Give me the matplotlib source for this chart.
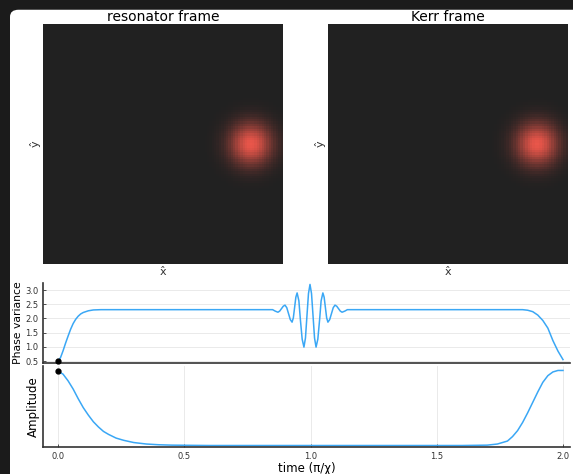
import numpy as np
import matplotlib
matplotlib.use("Agg")
import matplotlib.pyplot as plt
from matplotlib.colors import LinearSegmentedColormap
from matplotlib.patches import FancyBboxPatch

# heatmap blob (coherent state), in quadrature units
frame_titles = ["resonator frame", "Kerr frame"]
blob_x = [3.7, 3.75]
blob_y = [0.0, 0.0]
blob_sigma = 0.62
quad_range = 5.0
grid_cells = 101

# phase variance vs time (pi/chi)
pv_t = [0.0, 0.01, 0.02, 0.03, 0.04, 0.05, 0.06, 0.07, 0.08, 0.09, 0.10, 0.12, 0.14, 0.17,
        0.30, 0.50, 0.70, 0.80, 0.85, 0.86, 0.871, 0.878, 0.885, 0.892, 0.899, 0.906, 0.913,
        0.92, 0.927, 0.932, 0.937, 0.942, 0.947, 0.954, 0.96, 0.967, 0.974, 0.98, 0.986,
        0.992, 0.998, 1.004, 1.010, 1.016, 1.022, 1.029, 1.036, 1.042, 1.049, 1.054, 1.059,
        1.064, 1.069, 1.076, 1.083, 1.09, 1.097, 1.104, 1.111, 1.118, 1.125, 1.136, 1.146,
        1.30, 1.50, 1.70, 1.80, 1.84, 1.86, 1.88, 1.90, 1.92, 1.94, 1.96, 1.98, 2.0]
pv_v = [0.50, 0.62, 0.86, 1.13, 1.38, 1.62, 1.82, 1.97, 2.08, 2.16, 2.21, 2.27, 2.30, 2.31,
        2.31, 2.31, 2.31, 2.31, 2.31, 2.26, 2.22, 2.26, 2.345, 2.43, 2.47, 2.38, 2.17,
        1.96, 1.87, 2.02, 2.385, 2.75, 2.90, 2.62, 1.95, 1.27, 0.99, 1.31, 2.10,
        2.88, 3.20, 2.88, 2.10, 1.31, 0.99, 1.27, 1.95, 2.62, 2.90, 2.75, 2.385,
        2.02, 1.87, 1.96, 2.17, 2.38, 2.47, 2.43, 2.345, 2.26, 2.22, 2.26, 2.31,
        2.31, 2.31, 2.31, 2.31, 2.31, 2.29, 2.24, 2.12, 1.93, 1.66, 1.22, 0.85, 0.55]

# drive amplitude vs time
amp_t = [0.0, 0.02, 0.04, 0.06, 0.08, 0.10, 0.12, 0.14, 0.16, 0.18, 0.20, 0.23, 0.26, 0.30,
         0.35, 0.40, 0.45, 0.60, 1.60, 1.70, 1.74, 1.78, 1.80, 1.82, 1.84, 1.86, 1.88, 1.90,
         1.92, 1.94, 1.96, 1.98, 2.0]
amp_v = [1.0, 0.96, 0.87, 0.76, 0.63, 0.51, 0.41, 0.32, 0.25, 0.19, 0.15, 0.10, 0.07, 0.04,
         0.02, 0.01, 0.005, 0.0, 0.0, 0.005, 0.02, 0.06, 0.12, 0.20, 0.31, 0.44, 0.58, 0.72,
         0.85, 0.94, 0.99, 1.01, 1.01]

pv_ticks = [0.5, 1.0, 1.5, 2.0, 2.5, 3.0]
t_ticks = [0.0, 0.5, 1.0, 1.5, 2.0]

line_col = "#3aa7f5"
ink = "#333333"

fig = plt.figure(figsize=(5.73, 4.74), dpi=100, facecolor="#1b1b1b")
fig.patches.append(FancyBboxPatch((10 / 573, -0.05), 1.1, 1.04 - 5 / 474,
                                  boxstyle="round,pad=0,rounding_size=0.015",
                                  transform=fig.transFigure, facecolor="white",
                                  edgecolor="none", zorder=-10))

cmap = LinearSegmentedColormap.from_list("blob", ["#212121", "#e9564a"])
q = np.linspace(-quad_range, quad_range, grid_cells)
X, Y = np.meshgrid(q, q)

for i, left in enumerate([43 / 573, 328 / 573]):
    ax = fig.add_axes([left, 1 - 264 / 474, 240 / 573, 240 / 474])
    W = np.exp(-((X - blob_x[i]) ** 2 + (Y - blob_y[i]) ** 2) / (2 * blob_sigma ** 2))
    ax.imshow(W, origin="lower", extent=[-quad_range, quad_range, -quad_range, quad_range],
              cmap=cmap, vmin=0, vmax=1, interpolation="nearest", aspect="auto")
    ax.set_xticks([])
    ax.set_yticks([])
    for s in ax.spines.values():
        s.set_visible(False)
    ax.set_title(frame_titles[i], fontsize=10, color="black", pad=2)
    ax.set_xlabel("x̂", fontsize=8, color=ink, labelpad=2)
    ax.set_ylabel("ŷ", fontsize=8, color=ink, labelpad=2)

xlim = (-0.0594, 2.0277)

def style(ax):
    for s in ["top", "right"]:
        ax.spines[s].set_visible(False)
    for s in ["left", "bottom"]:
        ax.spines[s].set_color(ink)
        ax.spines[s].set_linewidth(1.2)
    ax.tick_params(labelsize=6, colors=ink, length=2, width=0.6, direction="in")
    ax.set_xlim(*xlim)
    ax.patch.set_alpha(0)

ax1 = fig.add_axes([43 / 573, 1 - 363 / 474, 527 / 573, 80 / 474])
ax1.plot(pv_t, pv_v, color=line_col, lw=1.1)
ax1.plot([pv_t[0]], [pv_v[0]], "o", color="black", ms=3.5, zorder=5, clip_on=False)
ax1.set_ylim(0.43, 3.25)
ax1.set_yticks(pv_ticks)
ax1.set_xticks(t_ticks)
ax1.set_xticklabels([])
ax1.grid(axis="y", color="#e6e6e6", lw=0.6)
style(ax1)
ax1.tick_params(axis="x", length=0)
ax1.set_ylabel("Phase variance", fontsize=7.8, color="black", labelpad=1)

ax2 = fig.add_axes([43 / 573, 1 - 447 / 474, 527 / 573, 81 / 474])
ax2.plot(amp_t, amp_v, color=line_col, lw=1.1)
ax2.plot([amp_t[0]], [amp_v[0]], "o", color="black", ms=3.5, zorder=5, clip_on=False)
ax2.set_ylim(-0.02, 1.07)
ax2.set_yticks([])
ax2.set_xticks(t_ticks)
ax2.grid(axis="x", color="#e6e6e6", lw=0.6)
style(ax2)
ax2.set_ylabel("Amplitude", fontsize=8.5, color="black", labelpad=2)
ax2.set_xlabel("time (π/χ)", fontsize=8.5, color="black", labelpad=1)

fig.savefig("out.png", dpi=100, facecolor=fig.get_facecolor())
